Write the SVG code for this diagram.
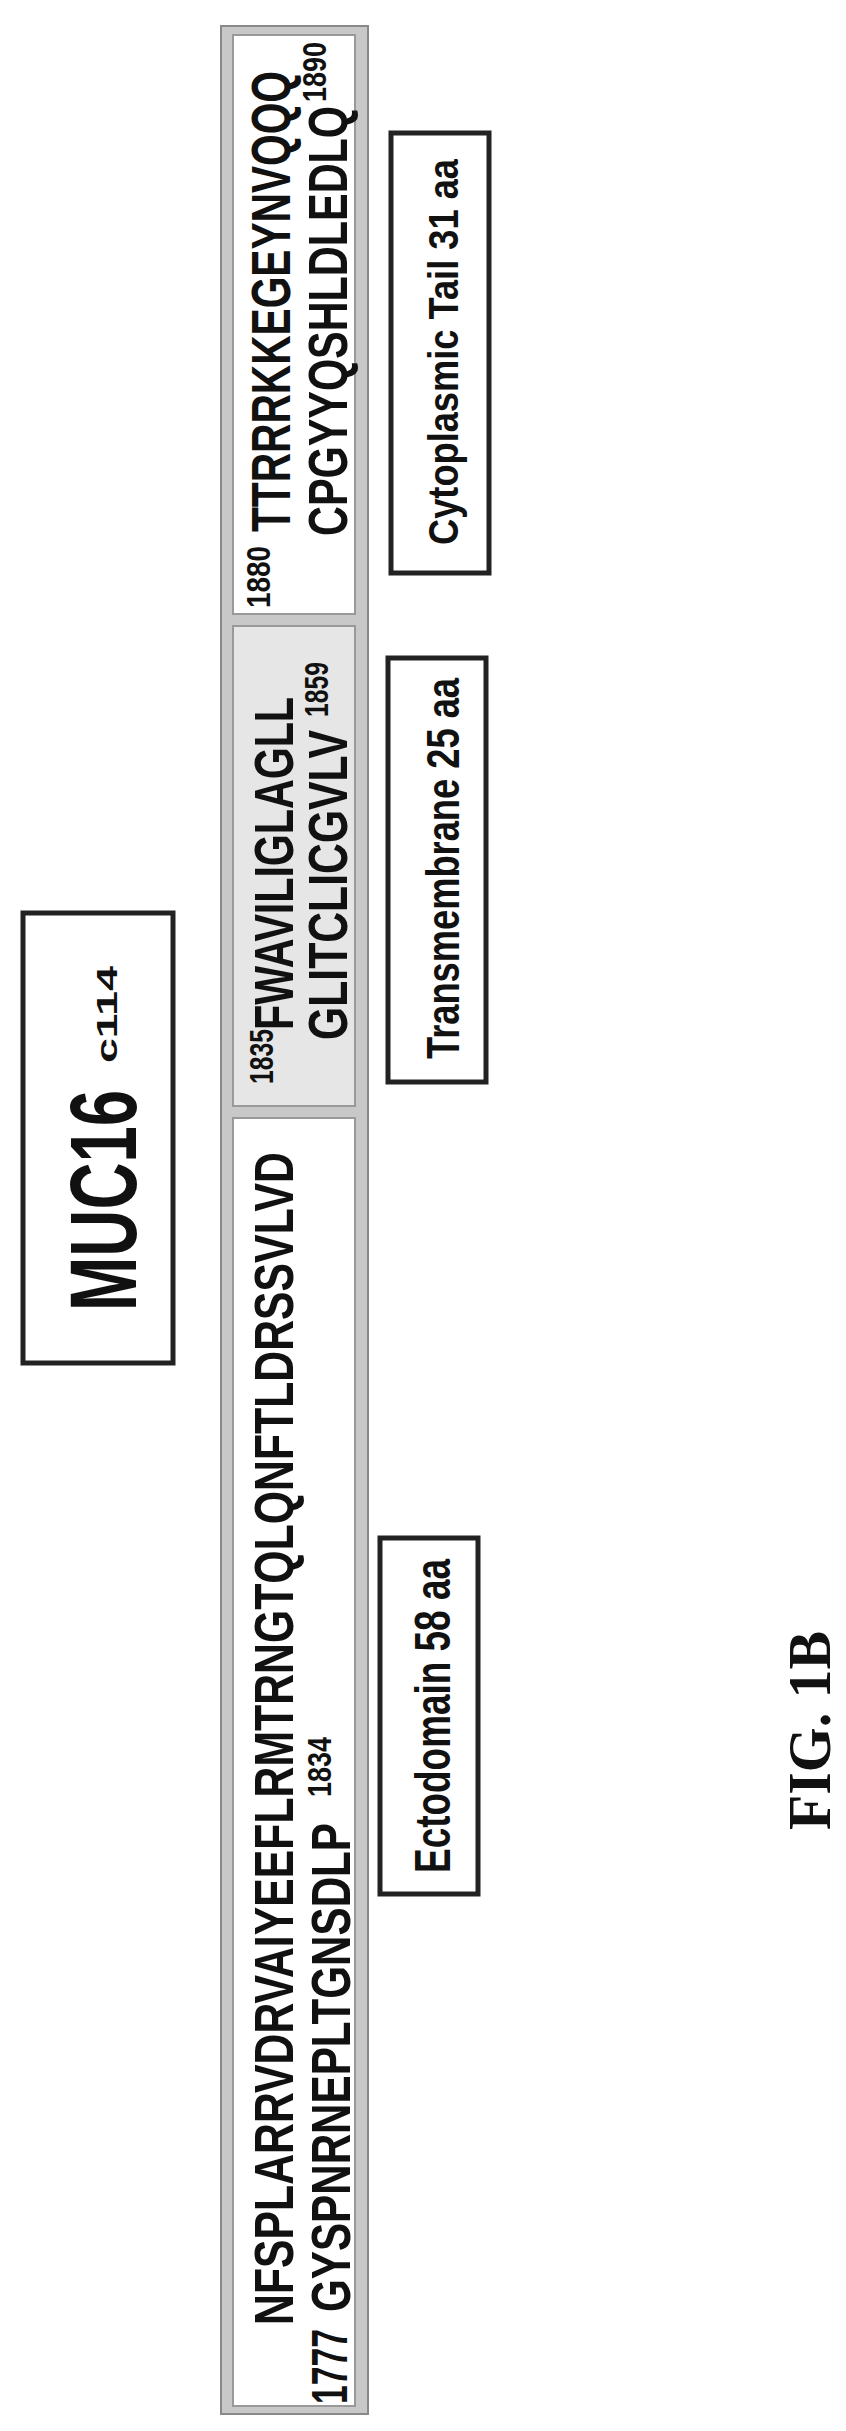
<svg xmlns="http://www.w3.org/2000/svg" width="846" height="2431" viewBox="0 0 846 2431">
<style>
.s{font-family:"Liberation Sans",Arial,sans-serif;font-weight:bold;fill:#111}
.lbl{fill:#fff;stroke:#222;stroke-width:5}
.seg{stroke:#999;stroke-width:2}
.fig{font-family:"Liberation Serif","Times New Roman",serif;font-weight:bold;fill:#111}
</style>
<rect width="846" height="2431" fill="#fff"/>
<g id="title">
<rect class="lbl" x="23" y="913" width="150" height="450" stroke-width="6"/>
<text class="s" font-size="94" transform="translate(136,1311) rotate(-90)" textLength="221" lengthAdjust="spacingAndGlyphs">MUC16</text>
<text class="s" font-size="30" transform="translate(117,1063) rotate(-90)" textLength="97" lengthAdjust="spacingAndGlyphs">c114</text>
</g>
<g id="protein">
<rect x="221" y="26" width="147" height="2388" fill="#c8c8c8" stroke="#888" stroke-width="2"/>
<g id="cytoplasmic">
<rect class="seg" x="233" y="35" width="122" height="579" fill="#fff"/>
<text class="s" font-size="34" transform="translate(270,608) rotate(-90)" textLength="62" lengthAdjust="spacingAndGlyphs">1880</text>
<text class="s" font-size="56" transform="translate(290,532) rotate(-90)" textLength="461" lengthAdjust="spacingAndGlyphs">TTRRRKKEGEYNVQQQ</text>
<text class="s" font-size="56" transform="translate(347,536) rotate(-90)" textLength="430" lengthAdjust="spacingAndGlyphs">CPGYYQSHLDLEDLQ</text>
<text class="s" font-size="34" transform="translate(326,102) rotate(-90)" textLength="60" lengthAdjust="spacingAndGlyphs">1890</text>
</g>
<g id="transmembrane">
<rect class="seg" x="233" y="626" width="122" height="480" fill="#e6e6e6"/>
<text class="s" font-size="34" transform="translate(273,1084) rotate(-90)" textLength="55" lengthAdjust="spacingAndGlyphs">1835</text>
<text class="s" font-size="56" transform="translate(293,1030) rotate(-90)" textLength="333" lengthAdjust="spacingAndGlyphs">FWAVILIGLAGLL</text>
<text class="s" font-size="56" transform="translate(347,1040) rotate(-90)" textLength="310" lengthAdjust="spacingAndGlyphs">GLITCLICGVLV</text>
<text class="s" font-size="34" transform="translate(328,717) rotate(-90)" textLength="55" lengthAdjust="spacingAndGlyphs">1859</text>
</g>
<g id="ectodomain">
<rect class="seg" x="233" y="1118" width="122" height="1288" fill="#fff"/>
<text class="s" font-size="56" transform="translate(293,2325) rotate(-90)" textLength="1173" lengthAdjust="spacingAndGlyphs">NFSPLARRVDRVAIYEEFLRMTRNGTQLQNFTLDRSSVLVD</text>
<text class="s" font-size="50" transform="translate(347,2404) rotate(-90)" textLength="75" lengthAdjust="spacingAndGlyphs">1777</text>
<text class="s" font-size="56" transform="translate(350,2312) rotate(-90)" textLength="489" lengthAdjust="spacingAndGlyphs">GYSPNRNEPLTGNSDLP</text>
<text class="s" font-size="34" transform="translate(331,1797) rotate(-90)" textLength="60" lengthAdjust="spacingAndGlyphs">1834</text>
</g>
</g>
<g id="label-cyto">
<rect class="lbl" x="391" y="133" width="98" height="440"/>
<text class="s" font-size="42" transform="translate(458,545) rotate(-90)" textLength="386" lengthAdjust="spacingAndGlyphs">Cytoplasmic Tail 31 aa</text>
</g>
<g id="label-tm">
<rect class="lbl" x="388" y="658" width="98" height="424"/>
<text class="s" font-size="46" transform="translate(459,1059) rotate(-90)" textLength="381" lengthAdjust="spacingAndGlyphs">Transmembrane 25 aa</text>
</g>
<g id="label-ecto">
<rect class="lbl" x="380" y="1538" width="98" height="356"/>
<text class="s" font-size="50" transform="translate(450,1873) rotate(-90)" textLength="314" lengthAdjust="spacingAndGlyphs">Ectodomain 58 aa</text>
</g>
<g id="connectors"></g>
<text class="fig" font-size="62" transform="translate(830,1830) rotate(-90)" textLength="199" lengthAdjust="spacingAndGlyphs">FIG. 1B</text>
</svg>
